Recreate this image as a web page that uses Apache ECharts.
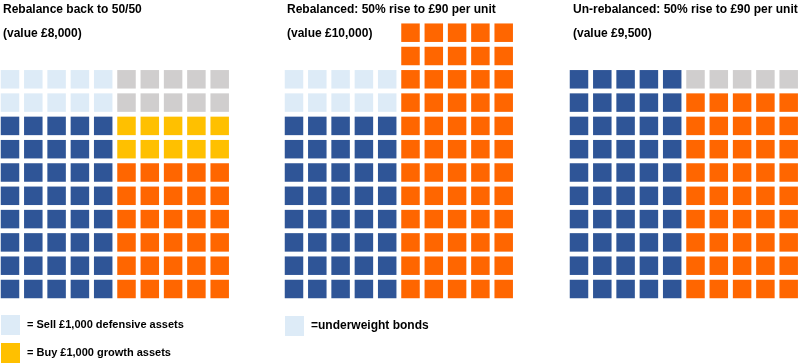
<!DOCTYPE html>
<html>
<head>
<meta charset="utf-8">
<script src="https://cdn.jsdelivr.net/npm/echarts@6/dist/echarts.min.js"></script>
<style>html,body{margin:0;padding:0;background:#fff}#c{width:800px;height:363px}</style>
</head>
<body>
<div id="c"></div>
<script>
// ---- data (one cell = £100) ----
const panelTitles = ['Rebalance back to 50/50', 'Rebalanced: 50% rise to £90 per unit', 'Un-rebalanced: 50% rise to £90 per unit'];
const panelValues = ['(value £8,000)', '(value £10,000)', '(value £9,500)'];
const defensiveCells = [40, 40, 50];   // dark blue, left half
const underweightCells = [10, 10, 0];  // light blue, left half
const growthCells = [30, 60, 45];      // orange, right half
const buyCells = [10, 0, 0];           // yellow, right half
const emptyCells = [10, 0, 5];         // grey, right half
const underweightNames = ['Sell £1,000 defensive assets', 'underweight bonds', 'Underweight 3'];
const buyNames = ['Buy £1,000 growth assets', 'Buy 2', 'Buy 3'];
const legendLabels = {
  'Sell £1,000 defensive assets': '= Sell £1,000 defensive assets',
  'Buy £1,000 growth assets': '= Buy £1,000 growth assets',
  'underweight bonds': '=underweight bonds'
};

// ---- styling ----
const COLORS = { defensive: '#2F5597', underweight: '#DDEBF7', growth: '#FF6600', buy: '#FFC000', empty: '#D0CECE' };
const gridLefts = [10, 294, 579];
const PITCH = 23.3;
const CELL = 18.5;
const FONT = '"Liberation Sans", Arial, sans-serif';

function fillHalf(segments, colOffset) {
  let idx = 0;
  return segments.map(seg => {
    const pts = [];
    for (let k = 0; k < seg; k++) {
      const col = idx % 5, row = Math.floor(idx / 5);
      pts.push([col + colOffset, row]);
      idx++;
    }
    return pts;
  });
}

const grids = [], xAxes = [], yAxes = [], series = [], graphics = [];
for (let p = 0; p < 3; p++) {
  grids.push({ left: gridLefts[p], width: 9 * PITCH, top: 289 - 11 * PITCH, height: 11 * PITCH });
  xAxes.push({ gridIndex: p, type: 'value', min: 0, max: 9, show: false });
  yAxes.push({ gridIndex: p, type: 'value', min: 0, max: 11, show: false });
  const [defPts, undPts] = fillHalf([defensiveCells[p], underweightCells[p]], 0);
  const [groPts, buyPts, empPts] = fillHalf([growthCells[p], buyCells[p], emptyCells[p]], 5);
  const mk = (name, data, color) => ({
    type: 'scatter', name, xAxisIndex: p, yAxisIndex: p, data,
    symbol: 'rect', symbolSize: CELL, clip: false, silent: true,
    itemStyle: { color, opacity: 1 }
  });
  series.push(mk('Defensive ' + (p + 1), defPts, COLORS.defensive));
  series.push(mk(underweightNames[p], undPts, COLORS.underweight));
  series.push(mk('Growth ' + (p + 1), groPts, COLORS.growth));
  series.push(mk(buyNames[p], buyPts, COLORS.buy));
  series.push(mk('Empty ' + (p + 1), empPts, COLORS.empty));
}

const titleX = [3, 287, 573];
for (let p = 0; p < 3; p++) {
  graphics.push({ type: 'text', left: titleX[p], top: 4, style: { text: panelTitles[p], font: 'bold 12px ' + FONT, fill: '#000' } });
  graphics.push({ type: 'text', left: titleX[p], top: 28, style: { text: panelValues[p], font: 'bold 12px ' + FONT, fill: '#000' } });
}

const legendCommon = {
  orient: 'vertical', icon: 'rect', itemWidth: 19, itemHeight: 20, itemGap: 8, padding: 0,
  selectedMode: false,
  formatter: name => legendLabels[name]
};

const chart = echarts.init(document.getElementById('c'));
chart.setOption({
  animation: false,
  grid: grids, xAxis: xAxes, yAxis: yAxes, series,
  legend: [
    Object.assign({}, legendCommon, { left: 1, top: 315, data: ['Sell £1,000 defensive assets', 'Buy £1,000 growth assets'],
      textStyle: { fontFamily: FONT, fontWeight: 'bold', fontSize: 11, color: '#000', padding: [0, 0, 0, 2] } }),
    Object.assign({}, legendCommon, { left: 285, top: 316, data: ['underweight bonds'],
      textStyle: { fontFamily: FONT, fontWeight: 'bold', fontSize: 12, color: '#000', padding: [0, 0, 0, 2] } })
  ],
  graphic: graphics
});
</script>
</body>
</html>
